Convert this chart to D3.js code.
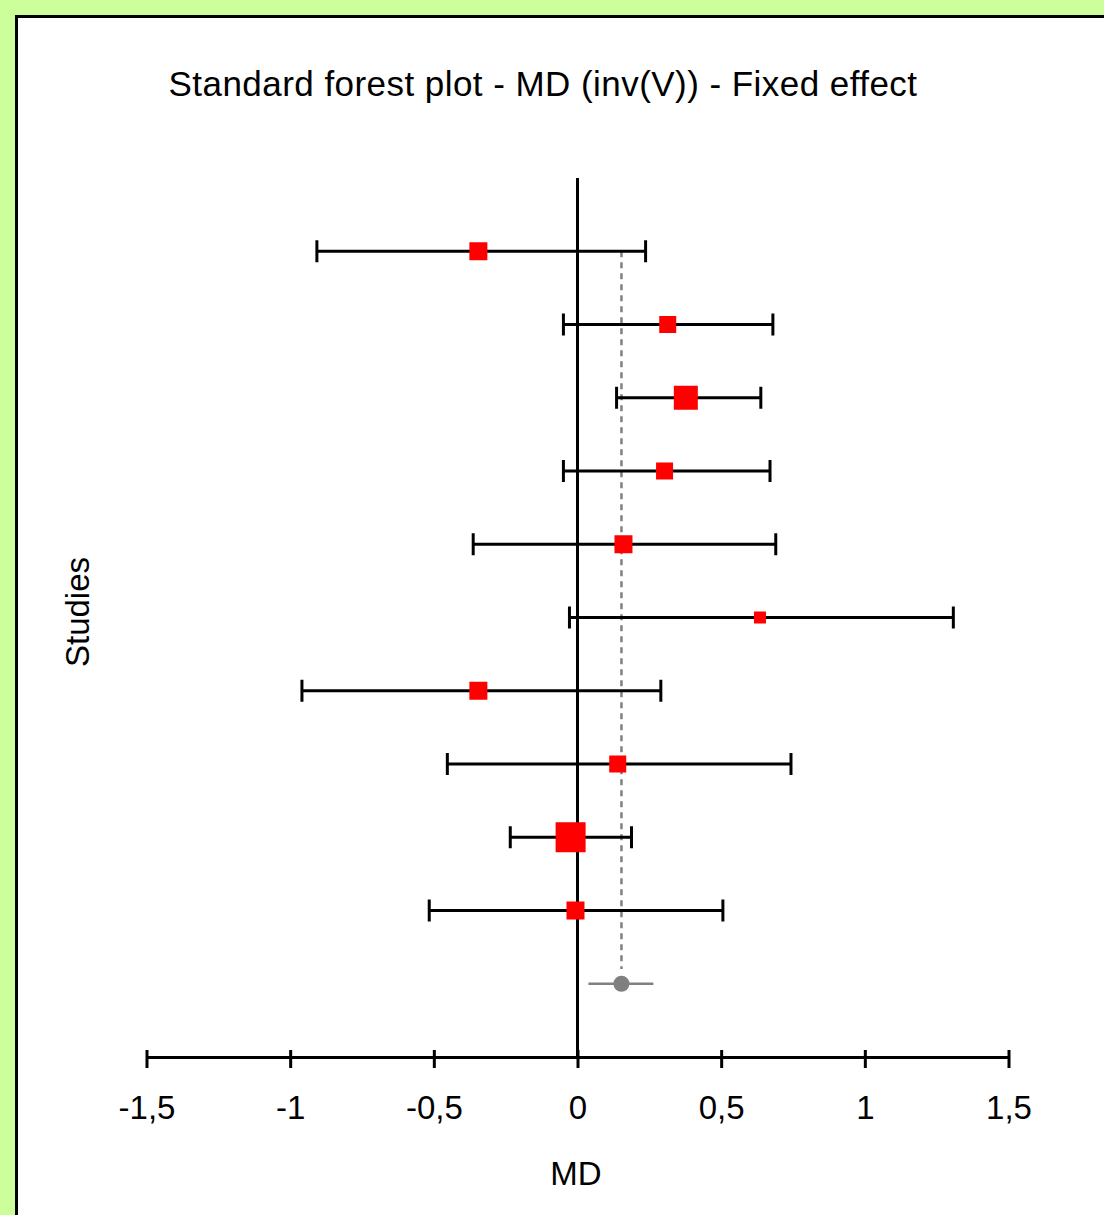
<!DOCTYPE html>
<html>
<head>
<meta charset="utf-8">
<script src="https://cdn.jsdelivr.net/npm/d3@7"></script>
<style>
  html, body { margin: 0; padding: 0; background: #ccff99; overflow: hidden; }
  svg { display: block; }
  text { font-family: 'Liberation Sans', Arial, sans-serif; fill: #000; }
</style>
</head>
<body>
<svg id="chart" width="1104" height="1215"></svg>
<script>
// study estimates (mean difference) with 95% CI, top to bottom
const md = [-0.345, 0.314, 0.377, 0.303, 0.16, 0.635, -0.345, 0.14, -0.024, -0.007]
const lower = [-0.907, -0.049, 0.136, -0.049, -0.363, -0.028, -0.959, -0.453, -0.234, -0.516]
const upper = [0.237, 0.68, 0.638, 0.67, 0.69, 1.308, 0.29, 0.743, 0.188, 0.506]
// relative weights (marker size)
const weights = [7.2, 6.8, 9.6, 6.8, 7.2, 4.8, 7.2, 6.8, 12.0, 7.2]
// pooled fixed effect
const pooled = { md: 0.153, lower: 0.038, upper: 0.264 }
const xTicks = [-1.5, -1, -0.5, 0, 0.5, 1, 1.5]

const svg = d3.select('#chart')

// white panel with black frame, running off the right and bottom edges
svg.append('rect')
  .attr('x', 16.5).attr('y', 16.5)
  .attr('width', 1200).attr('height', 1300)
  .attr('fill', '#fff')
  .attr('stroke', '#000')
  .attr('stroke-width', 3)

const x = d3.scaleLinear().domain([-1.5, 1.5]).range([146.5, 1008.5])
// rows 1..10 are studies, row 11 is the pooled estimate
const y = d3.scaleLinear().domain([0, 12]).range([178, 1057])
const size = d3.scaleLinear().domain([0, 12]).range([0, 30])

svg.append('text')
  .attr('x', 543).attr('y', 96)
  .attr('text-anchor', 'middle')
  .style('font-size', '35px')
  .style('letter-spacing', '0.45px')
  .text('Standard forest plot - MD (inv(V)) - Fixed effect')

// x axis
const xAxis = d3.axisBottom(x)
  .tickValues(xTicks)
  .tickSizeOuter(0)
  .tickFormat(d => String(d).replace('.', ','))

const gx = svg.append('g')
  .attr('transform', 'translate(0,1057)')
  .call(xAxis)
gx.select('.domain').attr('stroke', '#000').attr('stroke-width', 3)
gx.selectAll('.tick line')
  .attr('y1', -7).attr('y2', 11)
  .attr('stroke', '#000').attr('stroke-width', 3)
gx.selectAll('.tick text')
  .attr('y', 62).attr('dy', 0)
  .attr('fill', '#000')
  .style('font-size', '33px')
  .style('font-family', "'Liberation Sans', Arial, sans-serif")

svg.append('text')
  .attr('x', 576).attr('y', 1185)
  .attr('text-anchor', 'middle')
  .style('font-size', '33px')
  .text('MD')

svg.append('text')
  .attr('transform', 'translate(89,612) rotate(-90)')
  .attr('text-anchor', 'middle')
  .style('font-size', '33px')
  .text('Studies')

// line of no effect
svg.append('line')
  .attr('x1', x(0)).attr('x2', x(0))
  .attr('y1', y(0)).attr('y2', y(12))
  .attr('stroke', '#000').attr('stroke-width', 3)

// pooled estimate dashed reference
svg.append('line')
  .attr('x1', x(pooled.md)).attr('x2', x(pooled.md))
  .attr('y1', y(1)).attr('y2', y(10.8))
  .attr('stroke', '#808080').attr('stroke-width', 2.5)
  .attr('stroke-dasharray', '6,5')

const studies = md.map((m, i) => ({ md: m, lo: lower[i], hi: upper[i], w: weights[i], row: i + 1 }))
const CAP = 11

const rows = svg.selectAll('.study')
  .data(studies)
  .enter().append('g')
  .attr('class', 'study')

rows.append('line')
  .attr('x1', d => x(d.lo)).attr('x2', d => x(d.hi))
  .attr('y1', d => y(d.row)).attr('y2', d => y(d.row))
  .attr('stroke', '#000').attr('stroke-width', 3)

rows.selectAll('.cap')
  .data(d => [{ v: d.lo, row: d.row }, { v: d.hi, row: d.row }])
  .enter().append('line')
  .attr('class', 'cap')
  .attr('x1', d => x(d.v)).attr('x2', d => x(d.v))
  .attr('y1', d => y(d.row) - CAP).attr('y2', d => y(d.row) + CAP)
  .attr('stroke', '#000').attr('stroke-width', 3)

rows.append('rect')
  .attr('x', d => x(d.md) - size(d.w) / 2)
  .attr('y', d => y(d.row) - size(d.w) / 2)
  .attr('width', d => size(d.w))
  .attr('height', d => size(d.w))
  .attr('fill', '#ff0000')

// pooled estimate
svg.append('line')
  .attr('x1', x(pooled.lower)).attr('x2', x(pooled.upper))
  .attr('y1', y(11)).attr('y2', y(11))
  .attr('stroke', '#808080').attr('stroke-width', 2.5)
svg.append('circle')
  .attr('cx', x(pooled.md)).attr('cy', y(11))
  .attr('r', 8)
  .attr('fill', '#808080')
</script>
</body>
</html>
